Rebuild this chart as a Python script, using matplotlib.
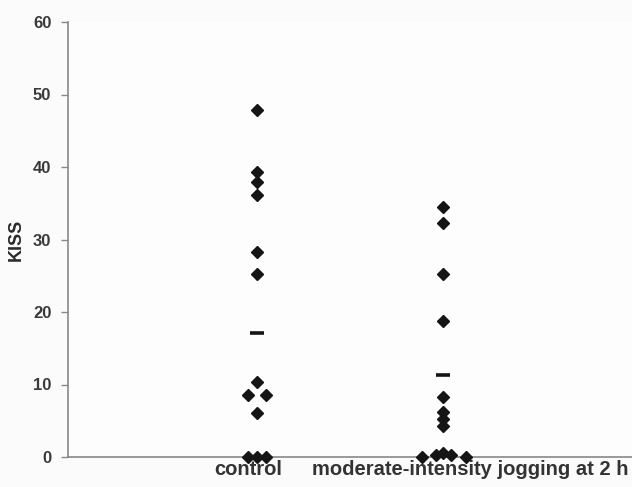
import matplotlib.pyplot as plt
import matplotlib.transforms as mtransforms

plt.rcParams['font.family'] = ['Liberation Sans', 'DejaVu Sans']

groups = ["control", "moderate-intensity jogging at 2 h"]

control_kiss = [47.9, 39.3, 38.0, 36.2, 28.3, 25.3, 10.4, 8.6, 8.6, 6.1, 0, 0, 0]
control_shift = [0, 0, 0, 0, 0, 0, 0, -1, 1, 0, -1, 0, 1]
control_mean = 17.1

jogging_kiss = [34.5, 32.3, 25.3, 18.8, 8.3, 6.2, 5.2, 4.3, 0, 0.3, 0.6, 0.3, 0]
jogging_shift = [0, 0, 0, 0, 0, 0, 0, 0, -2.3, -0.8, 0, 0.9, 2.5]
jogging_mean = 11.3

fig = plt.figure(figsize=(6.32, 4.87), dpi=100)
fig.patch.set_facecolor('#fbfbfb')
ax = fig.add_axes([68/632, 1 - 457/487, 1 - 68/632, 435/487])
ax.set_facecolor('#fdfdfd')

step = 9 / 186  # horizontal nudge for overlapping diamonds
for pos, vals, shifts, mean in [(1, control_kiss, control_shift, control_mean),
                                (2, jogging_kiss, jogging_shift, jogging_mean)]:
    xs = [pos + s * step for s in shifts]
    ax.plot(xs, vals, linestyle='none', marker='D', markersize=6.5,
            color='#151515', clip_on=False, zorder=3)
    ax.plot([pos - 0.04, pos + 0.04], [mean, mean], color='#151515', lw=2.6,
            solid_capstyle='butt', zorder=3)

ax.set_xlim(-3 / 186, 561 / 186)
ax.set_ylim(0, 60)
ax.set_yticks(range(0, 61, 10))
ax.set_xticks([1, 2])
ax.set_xticklabels(groups, fontsize=14.5, fontweight='bold', color='#333333')
ax.tick_params(axis='x', length=0, pad=2)
ax.tick_params(axis='y', length=5, width=1, color='#888888', labelsize=12,
               labelcolor='#3a3a3a', pad=7)
for lab in ax.get_yticklabels():
    lab.set_fontweight('bold')

# labels sit a little off their category positions in the original
offsets = [-9, 27]
for lab, dx in zip(ax.get_xticklabels(), offsets):
    lab.set_transform(lab.get_transform() +
                      mtransforms.ScaledTranslation(dx / 100, 0, fig.dpi_scale_trans))

ax.set_ylabel("KISS", fontsize=13, fontweight='bold', color='#2a2a2a', labelpad=6)

for side in ['top', 'right']:
    ax.spines[side].set_visible(False)
for side in ['left', 'bottom']:
    ax.spines[side].set_color('#888888')
    ax.spines[side].set_linewidth(1.2)

fig.savefig("out.png", dpi=100, facecolor=fig.get_facecolor())
